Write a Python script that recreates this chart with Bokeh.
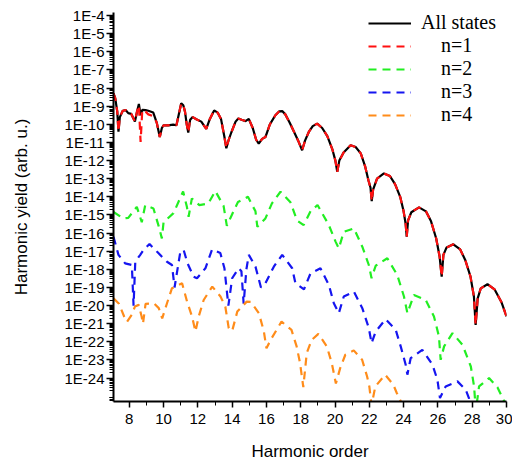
import numpy as np
from bokeh.plotting import figure
from bokeh.models import (Range1d, FixedTicker, CustomJSTickFormatter, Legend,
                          LegendItem, ColumnDataSource)
from bokeh.embed import file_html
from bokeh.resources import INLINE

# ---------------- data (harmonic order, log10 of harmonic yield) ----------------
order_all = [7.08, 7.18, 7.30, 7.37, 7.45, 7.62, 7.80, 7.94, 8.11, 8.28, 8.33, 8.45,
             8.56, 8.66, 8.76, 8.95, 9.11, 9.40, 9.60, 9.78, 9.90, 10.0, 10.27, 10.56,
             10.75, 10.90, 11.03, 11.15, 11.25, 11.35, 11.44, 11.55, 11.70, 11.91, 12.20,
             12.49, 12.70, 12.95, 13.15, 13.35, 13.55, 13.66, 13.80, 13.95, 14.20, 14.36,
             14.55, 14.78, 14.97, 15.2, 15.40, 15.55, 15.75, 15.94, 16.2, 16.52, 16.75,
             16.92, 17.1, 17.35, 17.6, 17.85, 18.08, 18.25, 18.47, 18.7, 18.96, 19.25,
             19.55, 19.85, 20.02, 20.13, 20.25, 20.5, 20.91, 21.2, 21.5, 21.75, 21.95,
             22.07, 22.14, 22.22, 22.45, 22.85, 23.2, 23.5, 23.8, 24.0, 24.12, 24.18,
             24.26, 24.45, 24.9, 25.3, 25.6, 25.9, 26.1, 26.22, 26.32, 26.5, 26.9, 27.3,
             27.6, 27.9, 28.1, 28.2, 28.32, 28.5, 28.89, 29.3, 29.7, 30.0]
log_all_states = [-8.29, -8.55, -9.3, -10.4, -9.6, -9.25, -9.22, -9.38, -9.42, -9.75, -9.85, -9.3,
                  -8.88, -9.5, -9.2, -9.22, -9.25, -9.35, -9.9, -10.7, -10.2, -10.05, -10.06, -10.02,
                  -10.05, -9.4, -8.84, -8.95, -9.3, -10.0, -10.45, -9.75, -9.6, -9.72, -9.85,
                  -10.25, -9.7, -9.23, -9.35, -9.7, -10.7, -11.32, -10.85, -10.45, -9.85, -9.68,
                  -9.75, -9.82, -9.7, -10.2, -10.85, -11.06, -10.8, -10.7, -10.0, -9.5, -9.28,
                  -9.27, -9.45, -9.9, -10.4, -10.9, -11.43, -10.9, -10.42, -10.1, -9.96, -10.2,
                  -10.65, -11.4, -12.0, -12.62, -12.0, -11.55, -11.15, -11.25, -11.6, -12.3, -13.1,
                  -13.5, -14.24, -13.6, -13.0, -12.71, -12.85, -13.3, -14.0, -14.8, -15.5, -16.2,
                  -15.3, -14.85, -14.58, -14.8, -15.35, -16.3, -17.3, -18.4, -17.2, -16.8, -16.62, -16.9,
                  -17.5, -18.4, -19.5, -21.06, -19.6, -19.05, -18.82, -19.1, -19.8, -20.6]
log_n1 = [-8.29, -8.55, -9.3, -10.4, -9.6, -9.25, -9.22, -9.38, -9.42, -9.75, -9.85, -9.3,
          -8.95, -10.97, -9.2, -9.3, -9.45, -9.55, -9.9, -10.7, -10.2, -10.05, -10.06, -10.02,
          -10.05, -9.4, -8.84, -8.95, -9.3, -10.0, -10.45, -9.75, -9.6, -9.72, -9.85,
          -10.25, -9.7, -9.23, -9.35, -9.7, -10.7, -11.32, -10.85, -10.45, -9.85, -9.68,
          -9.75, -9.82, -9.7, -10.2, -10.85, -11.06, -10.8, -10.7, -10.0, -9.5, -9.28,
          -9.27, -9.45, -9.9, -10.4, -10.9, -11.43, -10.9, -10.42, -10.1, -9.96, -10.2,
          -10.65, -11.4, -12.0, -12.62, -12.0, -11.55, -11.15, -11.25, -11.6, -12.3, -13.1,
          -13.5, -14.24, -13.6, -13.0, -12.71, -12.85, -13.3, -14.0, -14.8, -15.5, -16.2,
          -15.3, -14.85, -14.58, -14.8, -15.35, -16.3, -17.3, -18.4, -17.2, -16.8, -16.62, -16.9,
          -17.5, -18.4, -19.5, -21.06, -19.6, -19.05, -18.82, -19.1, -19.8, -20.6]

order_n2 = [7.08, 7.65, 7.94, 8.44, 8.73, 8.93, 9.41, 9.71, 9.90, 10.0, 10.58, 11.14, 11.36,
            11.46, 11.65, 12.09, 12.61, 13.02, 13.5, 13.69, 13.98, 14.34, 14.92, 15.36, 15.47,
            15.94, 16.32, 16.82, 17.40, 17.78, 18.17, 18.57, 18.98, 19.64, 20.03, 20.22, 20.51,
            21.10, 21.59, 21.97, 22.13, 22.37, 23.05, 23.63, 24.02, 24.22, 24.60, 25.29, 25.77,
            26.06, 26.16, 26.36, 26.85, 27.43, 27.92, 28.11, 28.21, 28.40, 28.98, 29.47, 29.77, 30.0]
log_n2 = [-14.83, -15.19, -15.16, -14.55, -15.4, -14.46, -14.64, -15.6, -16.29, -15.4, -14.9, -13.7,
          -14.55, -15.1, -14.09, -14.46, -14.36, -13.68, -14.5, -15.6, -15.0, -14.28, -14.0, -14.8,
          -15.65, -15.19, -14.36, -13.72, -14.3, -15.3, -15.56, -14.8, -14.45, -15.56, -16.47,
          -16.84, -15.93, -15.74, -16.75, -17.76, -18.49, -17.8, -17.39, -18.31, -19.5, -20.42,
          -19.41, -19.69, -20.6, -21.7, -22.99, -22.25, -21.52, -22.16, -23.36, -24.46, -25.8,
          -24.46, -24.0, -24.5, -25.1, -25.5]

order_n3 = [7.08, 7.37, 7.76, 8.15, 8.25, 8.35, 8.64, 8.83, 9.18, 9.61, 10.20, 10.49, 10.64,
            10.98, 11.17, 11.40, 11.75, 11.95, 12.44, 12.83, 13.31, 13.55, 13.78, 14.0, 14.38,
            14.54, 14.67, 14.83, 14.97, 15.36, 15.68, 15.94, 16.43, 16.92, 17.50, 17.69, 18.19,
            18.57, 19.15, 19.64, 19.93, 20.22, 20.51, 21.10, 21.59, 21.97, 22.13, 22.37, 22.95,
            23.54, 23.83, 24.12, 24.22, 24.41, 25.09, 25.68, 25.97, 26.12, 26.45, 27.14, 27.62,
            27.81, 27.94]
log_n3 = [-16.2, -17.2, -17.67, -17.76, -20.0, -17.58, -17.2, -16.93, -16.6, -17.02, -17.58,
          -17.76, -19.0, -17.02, -16.93, -17.67, -18.4, -18.49, -17.94, -16.9, -17.1, -17.94,
          -20.0, -18.49, -17.94, -18.1, -19.9, -18.0, -17.2, -17.85, -19.0, -18.77, -17.85,
          -17.2, -17.94, -18.77, -19.1, -18.22, -17.94, -18.86, -19.87, -20.42, -19.5, -19.23,
          -20.14, -21.24, -22.07, -21.43, -20.75, -21.34, -22.25, -23.26, -23.81, -22.9, -22.44,
          -23.26, -24.09, -25.1, -24.46, -24.18, -24.64, -25.1, -26.0]

order_n4 = [7.08, 7.40, 7.70, 7.86, 8.15, 8.33, 8.55, 8.72, 8.80, 8.95, 9.43, 9.72, 9.92, 10.2,
            10.49, 11.08, 11.37, 11.66, 11.86, 12.05, 12.34, 12.84, 13.32, 13.6, 13.8, 14.0,
            14.3, 14.85, 15.1, 15.56, 15.85, 16.0, 16.3, 16.88, 17.46, 17.76, 17.96, 18.15,
            18.35, 18.64, 19.03, 19.52, 19.81, 20.05, 20.3, 20.6, 21.09, 21.58, 21.87, 22.0,
            22.13, 22.35, 22.92, 23.4, 23.6, 24.2]
log_n4 = [-19.6, -19.9, -20.6, -20.9, -20.5, -20.05, -19.96, -20.6, -21.0, -19.9, -19.87, -20.14,
          -20.7, -19.87, -19.04, -18.77, -19.78, -20.6, -21.43, -20.6, -19.69, -18.95, -19.5,
          -20.05, -21.24, -21.4, -20.33, -19.78, -19.8, -20.42, -21.43, -22.35, -21.8, -20.88,
          -21.34, -22.25, -23.17, -24.5, -22.62, -21.89, -21.56, -22.25, -23.17, -24.3, -23.45,
          -22.71, -22.47, -22.99, -23.91, -24.46, -25.5, -24.46, -23.81, -24.36, -24.82, -26.0]

series_labels = ["All states", "\u00a0\u00a0\u00a0\u00a0n=1", "\u00a0\u00a0\u00a0\u00a0n=2",
                 "\u00a0\u00a0\u00a0\u00a0n=3", "\u00a0\u00a0\u00a0\u00a0n=4"]
major_exponents = list(range(-24, -3))

# ---------------- figure ----------------
p = figure(width=512, height=463, output_backend="svg", toolbar_location=None,
           y_axis_type="log",
           x_range=Range1d(7.08, 30.0), y_range=Range1d(10 ** -25.29, 10 ** -3.83),
           min_border_left=113, min_border_right=6, min_border_top=12, min_border_bottom=61)
p.outline_line_color = None
p.grid.visible = False
p.background_fill_color = "white"
p.border_fill_color = "white"


def src(x, lg):
    return ColumnDataSource(dict(x=x, y=[10.0 ** v for v in lg]))


r_all = p.line("x", "y", source=src(order_all, log_all_states), line_color="black", line_width=2.2)
r1 = p.line("x", "y", source=src(order_all, log_n1), line_color="#ff1010", line_width=2.2,
            line_dash="8 6")
r2 = p.line("x", "y", source=src(order_n2, log_n2), line_color="#22ee22", line_width=2.2,
            line_dash="8 6")
r3 = p.line("x", "y", source=src(order_n3, log_n3), line_color="#1515f0", line_width=2.2,
            line_dash="8 6")
r4 = p.line("x", "y", source=src(order_n4, log_n4), line_color="#ff8c1a", line_width=2.2,
            line_dash="8 6")

legend = Legend(items=[LegendItem(label=series_labels[0], renderers=[r_all]),
                       LegendItem(label=series_labels[1], renderers=[r1]),
                       LegendItem(label=series_labels[2], renderers=[r2]),
                       LegendItem(label=series_labels[3], renderers=[r3]),
                       LegendItem(label=series_labels[4], renderers=[r4])],
                location=(255, 275))
legend.border_line_color = None
legend.background_fill_alpha = 0
legend.label_text_font = "Liberation Serif"
legend.label_text_font_size = "20px"
legend.label_text_color = "black"
legend.glyph_width = 43
legend.glyph_height = 18
legend.label_height = 18
legend.label_standoff = 10
legend.spacing = 0
legend.padding = 0
legend.margin = 0
p.add_layout(legend)

# ---------------- axes ----------------
majors = [10.0 ** e for e in major_exponents]
minors = [k * 10.0 ** e for e in range(-26, -3) for k in range(2, 10)
          if 10 ** -25.29 <= k * 10.0 ** e <= 10 ** -3.83]
p.yaxis.ticker = FixedTicker(ticks=majors, minor_ticks=minors)
p.yaxis.formatter = CustomJSTickFormatter(code="return '1E' + Math.round(Math.log10(tick));")
p.xaxis.ticker = FixedTicker(ticks=list(range(8, 31, 2)), minor_ticks=list(range(9, 30, 2)))

for ax in (p.xaxis, p.yaxis):
    ax.axis_line_color = "black"
    ax.axis_line_width = 2
    ax.major_tick_line_color = "black"
    ax.minor_tick_line_color = "black"
    ax.major_tick_line_width = 1.5
    ax.minor_tick_line_width = 1
    ax.major_tick_in = 0
    ax.minor_tick_in = 0
    ax.major_label_text_font = "Liberation Sans"
    ax.major_label_text_font_size = "15px"
    ax.major_label_text_color = "black"
    ax.axis_label_text_font = "Liberation Sans"
    ax.axis_label_text_font_size = "17px"
    ax.axis_label_text_font_style = "normal"
    ax.axis_label_text_color = "black"

p.yaxis.major_tick_out = 7
p.yaxis.minor_tick_out = 4
p.yaxis.major_label_standoff = 2
p.yaxis.axis_label = "Harmonic yield (arb. u.)"
p.yaxis.axis_label_standoff = 30

p.xaxis.major_tick_out = 6
p.xaxis.minor_tick_out = 4
p.xaxis.major_label_standoff = 6
p.xaxis.axis_label = "Harmonic order"
p.xaxis.axis_label_standoff = 15

open("out.html", "w").write(file_html(p, INLINE))
